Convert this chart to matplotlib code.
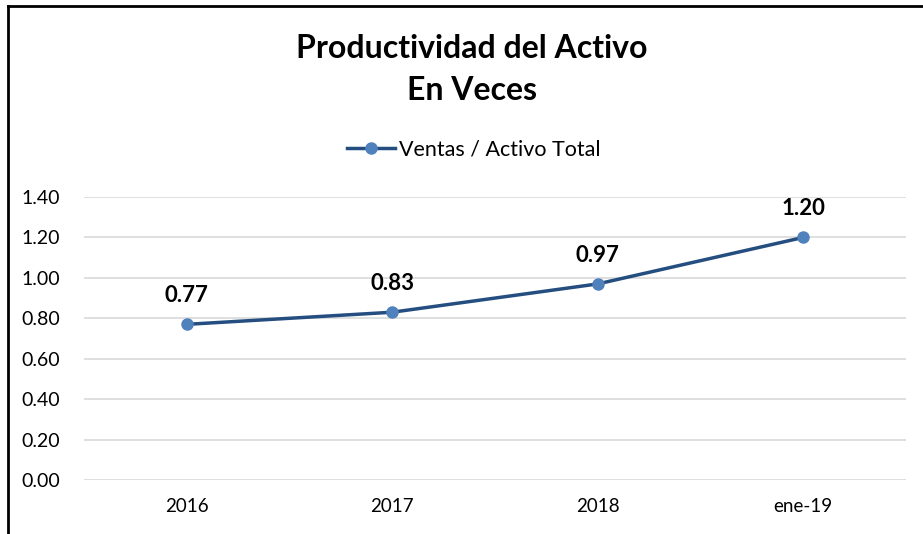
import matplotlib.pyplot as plt
from matplotlib.lines import Line2D

# datos
periodos = ["2016", "2017", "2018", "ene-19"]
ventas_activo = [0.77, 0.83, 0.97, 1.20]
etiquetas = ["0.77", "0.83", "0.97", "1.20"]
ticks_y = [0.0, 0.2, 0.4, 0.6, 0.8, 1.0, 1.2, 1.4]

plt.rcParams['font.family'] = ['Lato', 'DejaVu Sans']

fig = plt.figure(figsize=(9.23, 5.34), dpi=100)
ax = fig.add_axes([84 / 923, 54 / 534, 822 / 923, 283 / 534])

x = range(len(periodos))
ax.plot(x, ventas_activo, color='#254E80', linewidth=2.5, zorder=3)
ax.plot(x, ventas_activo, 'o', color='#4F81BD', markersize=8, zorder=4)

for xi, v, t in zip(x, ventas_activo, etiquetas):
    ax.annotate(t, (xi, v), xytext=(0, 13), textcoords='offset points',
                ha='center', va='bottom', fontsize=16, fontweight='bold')

ax.set_xlim(-0.5, len(periodos) - 0.5)
ax.set_ylim(0, 1.4)
ax.set_yticks(ticks_y)
ax.set_yticklabels([f"{t:.2f}" for t in ticks_y], fontsize=14)
ax.set_xticks(list(x))
ax.set_xticklabels(periodos, fontsize=13.5)
ax.tick_params(axis='y', length=0, pad=17)
ax.tick_params(axis='x', length=0, pad=13)
ax.grid(axis='y', color='#D9D9D9', linewidth=1.2)
ax.set_axisbelow(True)
for s in ax.spines.values():
    s.set_visible(False)

fig.text(472 / 923, 1 - 48 / 534, "Productividad del Activo", ha='center', va='center',
         fontsize=23, fontweight='bold')
fig.text(472 / 923, 1 - 90 / 534, "En Veces", ha='center', va='center',
         fontsize=23, fontweight='bold')

handle = Line2D([], [], color='#254E80', linewidth=2.5, marker='o',
                markerfacecolor='#4F81BD', markeredgecolor='#4F81BD', markersize=8)
fig.legend([handle], ["Ventas / Activo Total"], loc='center', bbox_to_anchor=(474 / 923, 1 - 150 / 534),
           frameon=False, fontsize=15.5, handlelength=2.2, handletextpad=0.2)

# marco
fig.add_artist(Line2D([8 / 923, 8 / 923], [0, 1 - 6 / 534], color='black', linewidth=2))
fig.add_artist(Line2D([8 / 923, 1], [1 - 6 / 534, 1 - 6 / 534], color='black', linewidth=2))

fig.savefig("out.png", dpi=100)
